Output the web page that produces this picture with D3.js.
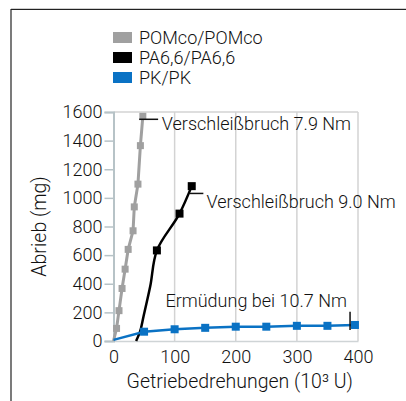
<!DOCTYPE html>
<html>
<head>
<meta charset="utf-8">
<script src="https://cdn.jsdelivr.net/npm/d3@7"></script>
<style>
  body { margin: 0; background: #fff; }
  text { font-family: Roboto, sans-serif; font-weight: 300; fill: #111; }
</style>
</head>
<body>
<div class="chart-div"></div>
<script>
const w = 406;
const h = 401;
const fs = 18;
const titleFs = 19.5;

// data
const series = ["POMco/POMco", "PA6,6/PA6,6", "PK/PK"];
const colors = ["#a0a0a0", "#000000", "#0a72c4"];

const pomX = [0, 5, 9, 14, 19, 24, 32, 34, 40, 44, 48];
const pomY = [0, 88, 212, 367, 502, 640, 770, 937, 1096, 1365, 1570];

const paX = [37, 43, 49, 60, 71, 108, 128];
const paY = [0, 60, 170, 380, 633, 890, 1082];
const paMarkFrom = 4;

const pkX = [0, 50, 100, 150, 200, 250, 300, 350, 395];
const pkY = [8, 65, 82, 92, 100, 100, 106, 106, 112];

const xTicks = [0, 100, 200, 300, 400];
const yTicks = [0, 200, 400, 600, 800, 1000, 1200, 1400, 1600];

const notes = [
  {text: "Verschleißbruch 7.9 Nm", x1: 42, x2: 73, y1: 1549, y2: 1549, tx: 79, ty: 1472},
  {text: "Verschleißbruch 9.0 Nm", x1: 125, x2: 147, y1: 1031, y2: 1031, tx: 152, ty: 930},
  {text: "Ermüdung bei 10.7 Nm", x1: 387, x2: 387, y1: 204, y2: 77, tx: 85, ty: 235}
];

const m = {left: 113.5, right: 48, top: 112, bottom: 60};

const svg = d3.select(".chart-div")
    .append("svg")
    .attr("width", w)
    .attr("height", h);

// frame
svg.append("line").attr("x1", 11).attr("x2", w).attr("y1", 8.5).attr("y2", 8.5)
    .attr("stroke", "#cfcfcf").attr("stroke-width", 1);
svg.append("line").attr("x1", 11).attr("x2", w).attr("y1", 9.5).attr("y2", 9.5)
    .attr("stroke", "#222").attr("stroke-width", 1.2);
svg.append("line").attr("x1", 11).attr("x2", 11).attr("y1", 9).attr("y2", h)
    .attr("stroke", "#222").attr("stroke-width", 1.2);

const xScale = d3.scaleLinear().domain([0, 400]).range([m.left, w - m.right]);
const yScale = d3.scaleLinear().domain([0, 1600]).range([h - m.bottom, m.top]);

// grid
svg.append("g").selectAll("line")
    .data(xTicks.slice(1)).enter()
    .append("line")
    .attr("x1", d => xScale(d)).attr("x2", d => xScale(d))
    .attr("y1", yScale(0)).attr("y2", yScale(1600))
    .attr("stroke", "#d3d3d3").attr("stroke-width", 1.5);
svg.append("line")
    .attr("x1", xScale(0)).attr("x2", xScale(400))
    .attr("y1", yScale(1600)).attr("y2", yScale(1600))
    .attr("stroke", "#d3d3d3").attr("stroke-width", 1.5);

const xAxis = d3.axisBottom(xScale).tickValues(xTicks).tickFormat(d3.format("d"))
    .tickSize(0).tickPadding(9);
const gx = svg.append("g")
    .attr("transform", `translate(0, ${yScale(0)})`)
    .call(xAxis);
gx.select(".domain").attr("stroke", "#cfd4d6").attr("stroke-width", 1.5);
gx.selectAll("text").attr("font-size", fs).style("font-family", "Roboto").attr("fill", "#111");

const yAxis = d3.axisLeft(yScale).tickValues(yTicks).tickFormat(d3.format("d"))
    .tickSize(9).tickPadding(2);
const gy = svg.append("g")
    .attr("transform", `translate(${xScale(0)}, 0)`)
    .call(yAxis);
gy.select(".domain").attr("stroke", "#b7c3c7").attr("stroke-width", 2);
gy.selectAll(".tick line").attr("stroke", "#b7c3c7").attr("stroke-width", 1.5);
gy.selectAll("text").attr("font-size", fs).style("font-family", "Roboto").attr("fill", "#111");

svg.append("text")
    .attr("x", (xScale(0) + xScale(400)) / 2 + 4)
    .attr("y", 388)
    .attr("text-anchor", "middle")
    .attr("font-size", titleFs)
    .text("Getriebedrehungen (10³ U)");

svg.append("text")
    .attr("transform", `translate(46, ${(yScale(0) + yScale(1600)) / 2}) rotate(-90)`)
    .attr("text-anchor", "middle")
    .attr("font-size", titleFs)
    .text("Abrieb (mg)");

// lines
const line = d3.line().x(d => xScale(d[0])).y(d => yScale(d[1]));
const pom = pomX.map((x, i) => [x, pomY[i]]);
const pa = paX.map((x, i) => [x, paY[i]]);
const pk = pkX.map((x, i) => [x, pkY[i]]);

svg.append("path").datum(pom).attr("d", line)
    .attr("fill", "none").attr("stroke", colors[0]).attr("stroke-width", 3);
svg.append("path").datum(pa).attr("d", line.curve(d3.curveMonotoneY))
    .attr("fill", "none").attr("stroke", colors[1]).attr("stroke-width", 2.5);
line.curve(d3.curveLinear);
svg.append("path").datum(pk).attr("d", line)
    .attr("fill", "none").attr("stroke", colors[2]).attr("stroke-width", 2.5);

function markers(pts, color, size) {
  svg.append("g").selectAll("rect")
      .data(pts).enter()
      .append("rect")
      .attr("x", d => xScale(d[0]) - size / 2)
      .attr("y", d => yScale(d[1]) - size / 2)
      .attr("width", size).attr("height", size)
      .attr("fill", color);
}
markers(pom.slice(1), colors[0], 7);
markers(pa.slice(paMarkFrom), colors[1], 8);
markers(pk.slice(1), colors[2], 8);

// annotations
notes.forEach(n => {
  svg.append("line")
      .attr("x1", xScale(n.x1)).attr("x2", xScale(n.x2))
      .attr("y1", yScale(n.y1)).attr("y2", yScale(n.y2))
      .attr("stroke", "#111").attr("stroke-width", 1.5);
  svg.append("text")
      .attr("x", xScale(n.tx)).attr("y", yScale(n.ty))
      .attr("font-size", fs)
      .text(n.text);
});

// legend
const lg = svg.append("g").selectAll("g")
    .data(series).enter()
    .append("g")
    .attr("transform", (d, i) => `translate(113, ${32 + i * 20})`);
lg.append("rect").attr("width", 19).attr("height", 11)
    .attr("fill", (d, i) => colors[i]);
lg.append("text").attr("x", 26).attr("y", 11.5)
    .attr("font-size", fs)
    .text(d => d);
</script>
</body>
</html>
